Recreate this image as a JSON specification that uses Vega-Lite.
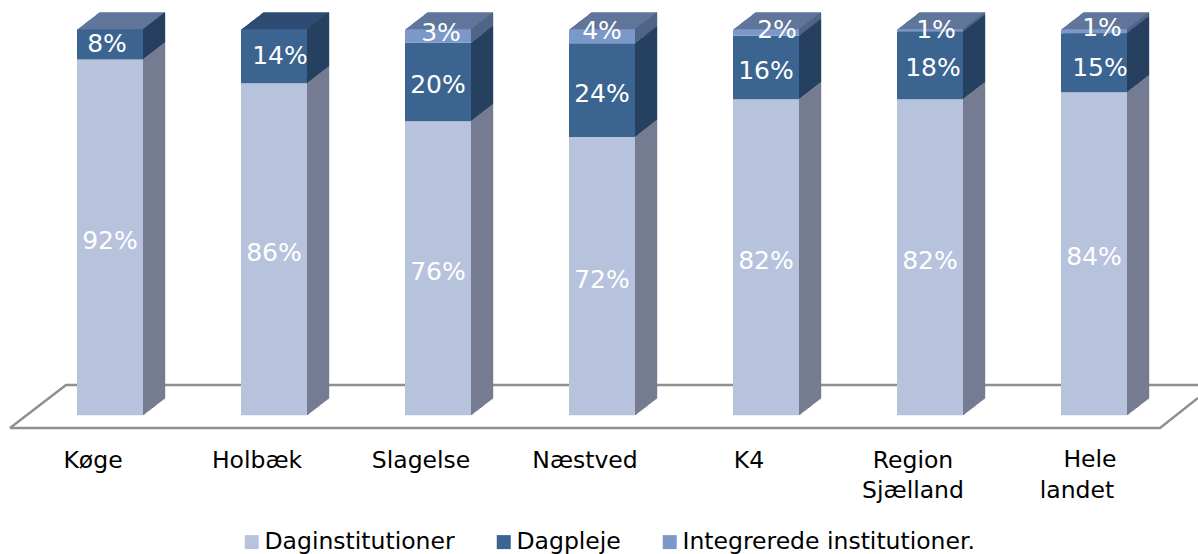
{"$schema":"https://vega.github.io/schema/vega-lite/v6.json","width":1198,"height":554,"padding":0,"autosize":{"type":"none"},"background":"white","config":{"view":{"stroke":null},"font":"DejaVu Sans"},
"resolve":{"scale":{"x":"independent","y":"independent","color":"independent"}},
"layer":[
{"data":{"values":[{"edge":"a","fx":10,"fy":428},{"edge":"a","fx":66,"fy":385},{"edge":"a","fx":1198,"fy":385},{"edge":"b","fx":10,"fy":428},{"edge":"b","fx":1160,"fy":428},{"edge":"b","fx":1198,"fy":398}]},
"mark":{"type":"line","color":"#8f8f8f","strokeWidth":2.4,"strokeJoin":"miter"},
"encoding":{"x":{"field":"fx","type":"quantitative","axis":null,"scale":{"domain":[0,1198],"range":[0,1198]}},"y":{"field":"fy","type":"quantitative","axis":null,"scale":{"domain":[0,554],"range":[0,554]}},"detail":{"field":"edge"},"order":{"field":"fx"}}},
{"data":{"values":[
{"cat":"Køge","series":"Daginstitutioner","ord":1,"v":92.2,"label":"92%","topFace":"light"},{"cat":"Køge","series":"Dagpleje","ord":2,"v":7.8,"label":"8%"},
{"cat":"Holbæk","series":"Daginstitutioner","ord":1,"v":86.0,"label":"86%","topFace":"dark"},{"cat":"Holbæk","series":"Dagpleje","ord":2,"v":14.0,"label":"14%"},
{"cat":"Slagelse","series":"Daginstitutioner","ord":1,"v":76.2,"label":"76%","topFace":"light"},{"cat":"Slagelse","series":"Dagpleje","ord":2,"v":20.3,"label":"20%"},{"cat":"Slagelse","series":"Integrerede institutioner.","ord":3,"v":3.5,"label":"3%"},
{"cat":"Næstved","series":"Daginstitutioner","ord":1,"v":72.1,"label":"72%","topFace":"light"},{"cat":"Næstved","series":"Dagpleje","ord":2,"v":24.3,"label":"24%"},{"cat":"Næstved","series":"Integrerede institutioner.","ord":3,"v":3.6,"label":"4%"},
{"cat":"K4","series":"Daginstitutioner","ord":1,"v":81.9,"label":"82%","topFace":"light"},{"cat":"K4","series":"Dagpleje","ord":2,"v":16.4,"label":"16%"},{"cat":"K4","series":"Integrerede institutioner.","ord":3,"v":1.7,"label":"2%"},
{"cat":"Region Sjælland","series":"Daginstitutioner","ord":1,"v":81.9,"label":"82%","topFace":"light"},{"cat":"Region Sjælland","series":"Dagpleje","ord":2,"v":17.5,"label":"18%"},{"cat":"Region Sjælland","series":"Integrerede institutioner.","ord":3,"v":0.6,"label":"1%"},
{"cat":"Hele landet","series":"Daginstitutioner","ord":1,"v":83.7,"label":"84%","topFace":"light"},{"cat":"Hele landet","series":"Dagpleje","ord":2,"v":15.3,"label":"15%"},{"cat":"Hele landet","series":"Integrerede institutioner.","ord":3,"v":1.0,"label":"1%"}
]},
"transform":[{"stack":"v","groupby":["cat"],"sort":[{"field":"ord"}],"as":["y0","y1"]},{"calculate":"(datum.y0+datum.y1)/2","as":"mid"}],
"resolve":{"scale":{"color":"independent"}},
"encoding":{"x":{"field":"cat","type":"nominal","title":null,"scale":{"domain":["Køge","Holbæk","Slagelse","Næstved","K4","Region Sjælland","Hele landet"],"range":[28,1176],"padding":0},"axis":{"orient":"bottom","offset":-112,"domain":false,"ticks":false,"grid":false,"labelAngle":0,"labelFontSize":23.5,"labelColor":"#000000","labelFont":"DejaVu Sans","labelPadding":6,"labelOffset":-17,"labelLineHeight":30,"labelBaseline":"top","labelLimit":300,"labelOverlap":false,"labelExpr":"datum.value=='Region Sjælland'?['Region','Sjælland']:datum.value=='Hele landet'?['','landet']:datum.label"}},
"y":{"field":"y1","type":"quantitative","axis":null,"scale":{"domain":[0,100],"range":[415.3,29.3]}},"y2":{"field":"y0"}},
"layer":[
{"transform":[{"filter":{"field":"series","equal":"Daginstitutioner"}}],
"encoding":{"y":{"datum":100,"type":"quantitative","axis":null},"y2":{"datum":99},"color":{"field":"topFace","type":"nominal","legend":null,"scale":{"domain":["light","dark"],"range":["#61769a","#2e4c73"]}}},
"layer":[
{"mark":{"type":"bar","size":66,"xOffset":22,"yOffset":-17}},{"mark":{"type":"bar","size":66,"xOffset":21,"yOffset":-16.23}},{"mark":{"type":"bar","size":66,"xOffset":20,"yOffset":-15.45}},{"mark":{"type":"bar","size":66,"xOffset":19,"yOffset":-14.68}},{"mark":{"type":"bar","size":66,"xOffset":18,"yOffset":-13.91}},{"mark":{"type":"bar","size":66,"xOffset":17,"yOffset":-13.14}},{"mark":{"type":"bar","size":66,"xOffset":16,"yOffset":-12.36}},{"mark":{"type":"bar","size":66,"xOffset":15,"yOffset":-11.59}},{"mark":{"type":"bar","size":66,"xOffset":14,"yOffset":-10.82}},{"mark":{"type":"bar","size":66,"xOffset":13,"yOffset":-10.05}},{"mark":{"type":"bar","size":66,"xOffset":12,"yOffset":-9.27}},{"mark":{"type":"bar","size":66,"xOffset":11,"yOffset":-8.5}},{"mark":{"type":"bar","size":66,"xOffset":10,"yOffset":-7.73}},{"mark":{"type":"bar","size":66,"xOffset":9,"yOffset":-6.95}},{"mark":{"type":"bar","size":66,"xOffset":8,"yOffset":-6.18}},{"mark":{"type":"bar","size":66,"xOffset":7,"yOffset":-5.41}},{"mark":{"type":"bar","size":66,"xOffset":6,"yOffset":-4.64}},{"mark":{"type":"bar","size":66,"xOffset":5,"yOffset":-3.86}},{"mark":{"type":"bar","size":66,"xOffset":4,"yOffset":-3.09}},{"mark":{"type":"bar","size":66,"xOffset":3,"yOffset":-2.32}},{"mark":{"type":"bar","size":66,"xOffset":2,"yOffset":-1.55}},{"mark":{"type":"bar","size":66,"xOffset":1,"yOffset":-0.77}}
]},
{"encoding":{"color":{"field":"series","type":"nominal","legend":null,"scale":{"domain":["Daginstitutioner","Dagpleje","Integrerede institutioner."],"range":["#757c91","#27405f","#506585"]}}},
"layer":[
{"mark":{"type":"bar","size":1.4,"xOffset":33.5,"yOffset":-0.39,"y2Offset":-0.39}},{"mark":{"type":"bar","size":1.4,"xOffset":34.5,"yOffset":-1.16,"y2Offset":-1.16}},{"mark":{"type":"bar","size":1.4,"xOffset":35.5,"yOffset":-1.93,"y2Offset":-1.93}},{"mark":{"type":"bar","size":1.4,"xOffset":36.5,"yOffset":-2.7,"y2Offset":-2.7}},{"mark":{"type":"bar","size":1.4,"xOffset":37.5,"yOffset":-3.48,"y2Offset":-3.48}},{"mark":{"type":"bar","size":1.4,"xOffset":38.5,"yOffset":-4.25,"y2Offset":-4.25}},{"mark":{"type":"bar","size":1.4,"xOffset":39.5,"yOffset":-5.02,"y2Offset":-5.02}},{"mark":{"type":"bar","size":1.4,"xOffset":40.5,"yOffset":-5.8,"y2Offset":-5.8}},{"mark":{"type":"bar","size":1.4,"xOffset":41.5,"yOffset":-6.57,"y2Offset":-6.57}},{"mark":{"type":"bar","size":1.4,"xOffset":42.5,"yOffset":-7.34,"y2Offset":-7.34}},{"mark":{"type":"bar","size":1.4,"xOffset":43.5,"yOffset":-8.11,"y2Offset":-8.11}},{"mark":{"type":"bar","size":1.4,"xOffset":44.5,"yOffset":-8.89,"y2Offset":-8.89}},{"mark":{"type":"bar","size":1.4,"xOffset":45.5,"yOffset":-9.66,"y2Offset":-9.66}},{"mark":{"type":"bar","size":1.4,"xOffset":46.5,"yOffset":-10.43,"y2Offset":-10.43}},{"mark":{"type":"bar","size":1.4,"xOffset":47.5,"yOffset":-11.2,"y2Offset":-11.2}},{"mark":{"type":"bar","size":1.4,"xOffset":48.5,"yOffset":-11.98,"y2Offset":-11.98}},{"mark":{"type":"bar","size":1.4,"xOffset":49.5,"yOffset":-12.75,"y2Offset":-12.75}},{"mark":{"type":"bar","size":1.4,"xOffset":50.5,"yOffset":-13.52,"y2Offset":-13.52}},{"mark":{"type":"bar","size":1.4,"xOffset":51.5,"yOffset":-14.3,"y2Offset":-14.3}},{"mark":{"type":"bar","size":1.4,"xOffset":52.5,"yOffset":-15.07,"y2Offset":-15.07}},{"mark":{"type":"bar","size":1.4,"xOffset":53.5,"yOffset":-15.84,"y2Offset":-15.84}},{"mark":{"type":"bar","size":1.4,"xOffset":54.5,"yOffset":-16.61,"y2Offset":-16.61}}
]},
{"mark":{"type":"bar","size":66},"encoding":{"color":{"field":"series","type":"nominal","title":null,"scale":{"domain":["Daginstitutioner","Dagpleje","Integrerede institutioner."],"range":["#b7c3dd","#3c6491","#7b98c8"]},"legend":{"orient":"none","legendX":240,"legendY":530,"direction":"horizontal","columns":3,"columnPadding":37,"symbolType":"square","symbolSize":196,"symbolStrokeWidth":0,"labelFontSize":23.5,"labelFont":"DejaVu Sans","labelColor":"#000000","labelLimit":400,"labelOffset":1,"gridAlign":"each"}}}},
{"encoding":{"y":{"field":"mid","type":"quantitative","axis":null},"y2":null,"text":{"field":"label"}},
"layer":[
{"transform":[{"filter":{"not":{"field":"label","oneOf":["8%","14%","3%","4%","2%","1%","15%","18%"]}}}],"mark":{"type":"text","color":"white","fontSize":25,"baseline":"middle","dy":3.5}},
{"transform":[{"filter":{"field":"label","equal":"8%"}}],"mark":{"type":"text","color":"white","fontSize":25,"baseline":"middle","dx":-3}},
{"transform":[{"filter":{"field":"label","equal":"14%"}}],"mark":{"type":"text","color":"white","fontSize":25,"baseline":"middle","dx":6}},
{"transform":[{"filter":{"field":"label","equal":"3%"}}],"mark":{"type":"text","color":"white","fontSize":25,"baseline":"middle","dx":3,"dy":-3}},
{"transform":[{"filter":{"field":"label","equal":"4%"}}],"mark":{"type":"text","color":"white","fontSize":25,"baseline":"middle","dy":-5}},
{"transform":[{"filter":{"field":"label","equal":"2%"}}],"mark":{"type":"text","color":"white","fontSize":25,"baseline":"middle","dx":11,"dy":-3}},
{"transform":[{"filter":{"and":[{"field":"label","equal":"1%"},{"field":"cat","equal":"Region Sjælland"}]}}],"mark":{"type":"text","color":"white","fontSize":25,"baseline":"middle","dx":6}},
{"transform":[{"filter":{"and":[{"field":"label","equal":"1%"},{"field":"cat","equal":"Hele landet"}]}}],"mark":{"type":"text","color":"white","fontSize":25,"baseline":"middle","dx":8,"dy":-3}},
{"transform":[{"filter":{"field":"label","equal":"15%"}}],"mark":{"type":"text","color":"white","fontSize":25,"baseline":"middle","dx":6,"dy":5}},
{"transform":[{"filter":{"field":"label","equal":"18%"}}],"mark":{"type":"text","color":"white","fontSize":25,"baseline":"middle","dx":3,"dy":3}},
{"transform":[{"filter":{"and":[{"field":"cat","equal":"Hele landet"},{"field":"series","equal":"Daginstitutioner"}]}}],"mark":{"type":"text","color":"#000000","fontSize":23.5,"baseline":"middle","dx":-4},"encoding":{"y":{"datum":-11.6,"type":"quantitative","axis":null},"text":{"value":"Hele"}}}
]}
]}
]}
